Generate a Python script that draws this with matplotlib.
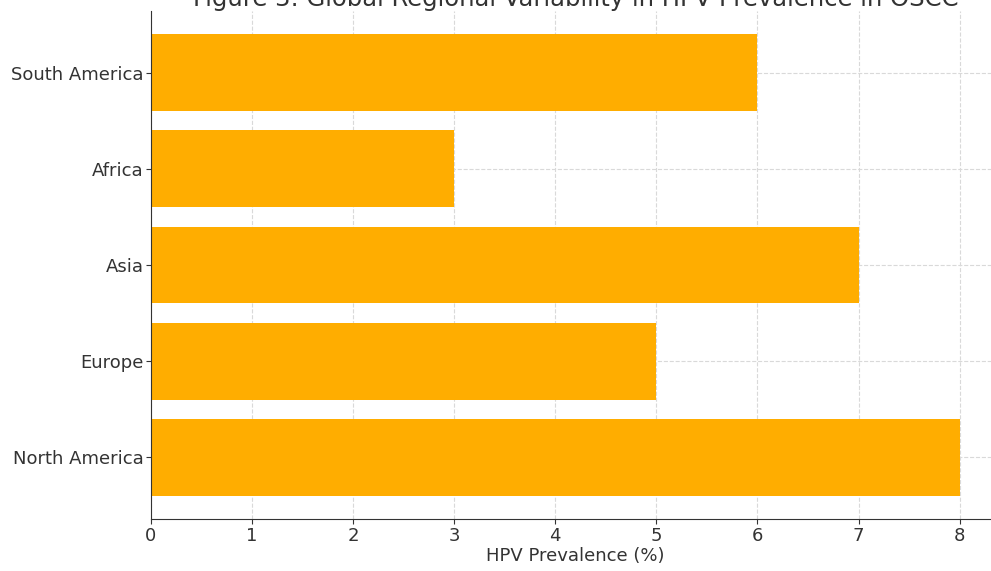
import matplotlib
matplotlib.use("Agg")
import matplotlib.pyplot as plt

plt.rcParams["font.family"] = ["DejaVu Sans"]

regions = ["North America", "Europe", "Asia", "Africa", "South America"]
prevalence = [8, 5, 7, 3, 6]
x_ticks = [0, 1, 2, 3, 4, 5, 6, 7, 8]

W, H = 991, 571
fig = plt.figure(figsize=(W / 100, H / 100), dpi=100)
# Axes frame in pixel terms: left at 151, right runs past the figure edge
left, right, top, bottom = 151, 1000, 11, 519
ax = fig.add_axes([left / W, 1 - bottom / H, (right - left) / W, (bottom - top) / H])

ax.barh(regions, prevalence, color="#FFAD00", height=0.8, zorder=2)
ax.set_xticks(x_ticks)
ax.grid(True, linestyle="--", color="#d9d9d9", linewidth=0.8, zorder=0)
ax.set_axisbelow(True)
for s in ("top", "right"):
    ax.spines[s].set_visible(False)
ax.spines["left"].set_color("#333333")
ax.spines["bottom"].set_color("#333333")
ax.tick_params(labelsize=13, colors="#333333", pad=2)
ax.set_xlabel("HPV Prevalence (%)", fontsize=13, color="#333333", labelpad=2)
ax.set_title("Figure 3: Global Regional Variability in HPV Prevalence in OSCC",
             fontsize=17.5, color="#333333", pad=3)

fig.savefig("out.png", dpi=100)
